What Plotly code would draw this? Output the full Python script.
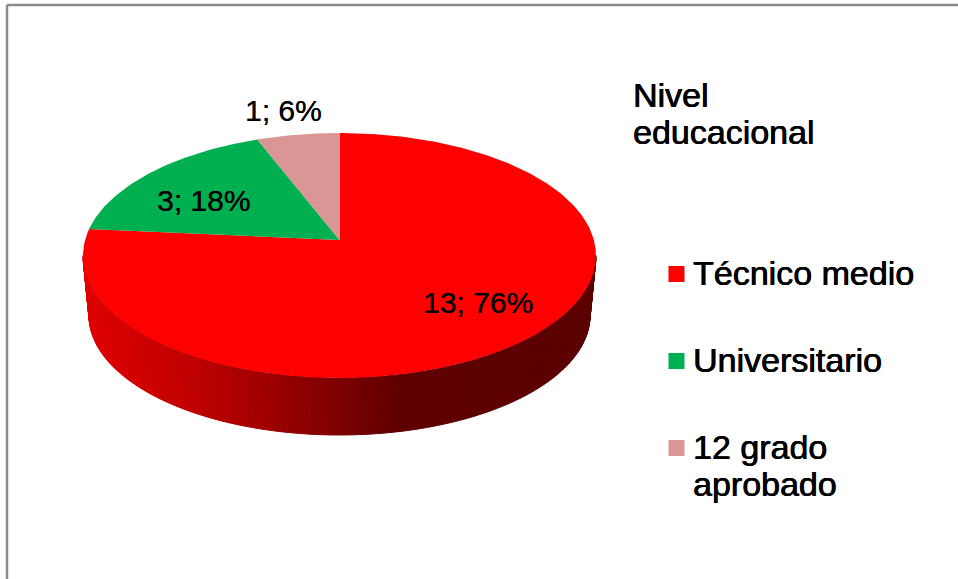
import numpy as np
import plotly.graph_objects as go

# Nivel educacional
categories = ["Técnico medio", "Universitario", "12 grado aprobado"]
values = [13, 3, 1]
colors = ["#ff0000", "#00b050", "#d99694"]
legend_title = ["Nivel", "educacional"]
legend_lines = [["Técnico medio"], ["Universitario"], ["12 grado", "aprobado"]]

W, H = 958, 579
FONT = "Liberation Sans, Arial, sans-serif"
# the reference text is a blurred, slightly heavy raster, thicken the strokes a bit
HEAVY = "0.45px 0 0 #000, -0.25px 0 0 #000"
LIGHT = "0.25px 0 0 #000"

# pie geometry in pixels, top face is a circle seen in perspective
APEX_X, APEX_Y = 339.5, 240
K = 0.1265
A = 120.5
B = 254.4
BOTTOM_CY, BOTTOM_RX, BOTTOM_RY = 315.5, 250.5, 119.5
TOP_CY, TOP_RX, TOP_RY = 255.5, 256.5, 122.5


def top_rim(theta):
    # theta runs clockwise from 12 o'clock
    u, v = np.sin(theta), np.cos(theta)
    w = 1 + K * v
    return APEX_X + B * u / w, APEX_Y - A * v / w


def side_colour(x):
    # bright red on the left fading to dark maroon on the right
    stops_x = [83, 210, 340, 400, 596]
    stops_r = [225, 185, 125, 96, 90]
    return f"rgb({int(np.interp(x, stops_x, stops_r))},0,0)"


fig = go.Figure()

# side wall: thin quads between the top and bottom rims
phi = np.linspace(-np.pi / 2, np.pi / 2, 161)
tx = APEX_X + TOP_RX * np.sin(phi)
ty = TOP_CY + TOP_RY * np.cos(phi)
bx = APEX_X + BOTTOM_RX * np.sin(phi)
by = BOTTOM_CY + BOTTOM_RY * np.cos(phi)
for i in range(len(phi) - 1):
    col = side_colour((tx[i] + tx[i + 1]) / 2)
    fig.add_trace(go.Scatter(
        x=[tx[i], tx[i + 1], bx[i + 1], bx[i], tx[i]],
        y=[ty[i], ty[i + 1], by[i + 1], by[i], ty[i]],
        mode="lines", fill="toself", fillcolor=col,
        line=dict(color=col, width=1), hoverinfo="skip", showlegend=False,
    ))

# top face slices, clockwise from the top
start = 0.0
total = sum(values)
for name, val, col in zip(categories, values, colors):
    end = start + val / total * 2 * np.pi
    th = np.linspace(start, end, max(int(val * 30), 30))
    rx, ry = top_rim(th)
    fig.add_trace(go.Scatter(
        x=np.r_[APEX_X, rx, APEX_X], y=np.r_[APEX_Y, ry, APEX_Y],
        mode="lines", fill="toself", fillcolor=col, line=dict(width=0),
        name=name, showlegend=False,
    ))
    start = end

# data labels
label_pos = [(478, 302), (203, 200), (283, 110)]
for val, (lx, ly) in zip(values, label_pos):
    fig.add_annotation(x=lx, y=ly, text=f"{val}; {round(val / total * 100)}%",
                       showarrow=False, font=dict(size=30, color="#000000", family=FONT, shadow=LIGHT))

# legend title
for line, ly in zip(legend_title, [95, 132]):
    fig.add_annotation(x=630.5, y=ly, text=line, xanchor="left", showarrow=False,
                       font=dict(size=34, color="#000000", family=FONT, shadow=HEAVY))

# legend markers and entries
marker_y = [274, 361, 448]
fig.add_trace(go.Scatter(
    x=[676.5] * 3, y=marker_y, mode="markers", hoverinfo="skip", showlegend=False,
    marker=dict(symbol="square", size=16, color=colors, line=dict(width=0)),
))
for lines, my in zip(legend_lines, marker_y):
    for j, line in enumerate(lines):
        fig.add_annotation(x=690.5, y=my - 1 + j * 37, text=line, xanchor="left", showarrow=False,
                           font=dict(size=34, color="#000000", family=FONT, shadow=HEAVY))

# frame of the pasted chart, only top and left edges show
fig.add_shape(type="line", x0=7, x1=7, y0=5, y1=H, line=dict(color="#8c8c8c", width=2.5))
fig.add_shape(type="line", x0=7, x1=W, y0=5, y1=5, line=dict(color="#8c8c8c", width=2.5))

fig.update_layout(
    width=W, height=H,
    margin=dict(l=0, r=0, t=0, b=0),
    paper_bgcolor="#ffffff", plot_bgcolor="#ffffff",
    xaxis=dict(range=[0, W], visible=False, fixedrange=True),
    yaxis=dict(range=[H, 0], visible=False, fixedrange=True),
    showlegend=False,
)

fig.write_html("out.html", config=dict(displayModeBar=False),
               post_script="document.body.style.margin='0';document.body.style.overflow='hidden';")
